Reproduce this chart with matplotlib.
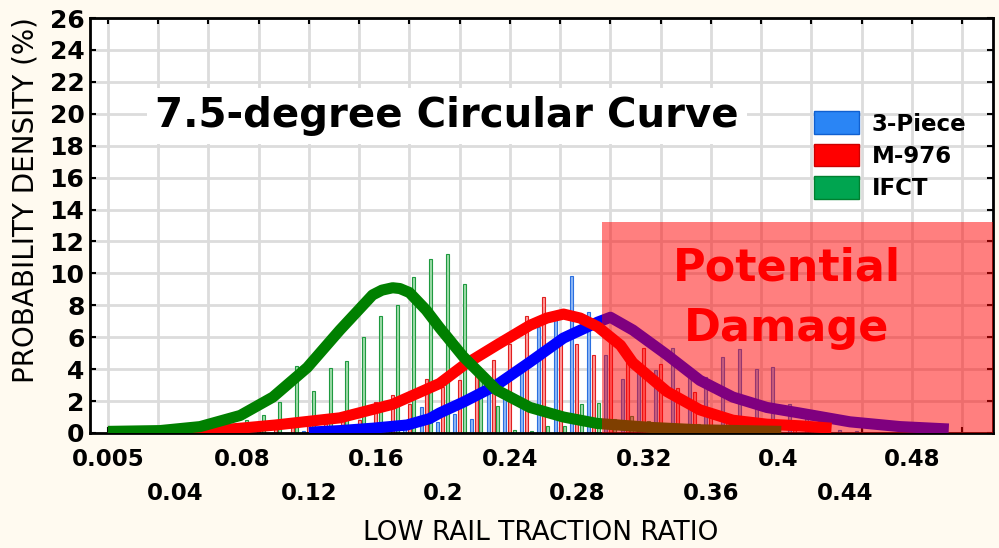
import numpy as np
import matplotlib.pyplot as plt
from matplotlib.patches import Patch, Rectangle
import matplotlib.transforms as mtransforms

# histogram bins (low rail traction ratio) and bar heights (%)
green_bins = [0.06, 0.07, 0.08, 0.09, 0.10, 0.11, 0.12, 0.13, 0.14, 0.15, 0.16, 0.17, 0.18,
              0.19, 0.20, 0.21, 0.22, 0.23, 0.24, 0.25, 0.26, 0.27, 0.28, 0.29, 0.30, 0.31,
              0.32, 0.33, 0.34, 0.35, 0.36]
green_hist = [0.1, 0.3, 0.8, 1.1, 1.95, 4.2, 2.65, 4.05, 4.5, 6.0, 7.3, 8.0, 9.8,
              10.9, 11.2, 9.35, 3.7, 1.7, 0.2, 0.1, 0.45, 0.45, 1.8, 1.85, 0.9, 1.05,
              0.75, 0.2, 0.1, 0.55, 0.1]

red_bins = [0.07, 0.08, 0.09, 0.10, 0.11, 0.12, 0.13, 0.14, 0.15, 0.16, 0.17, 0.18, 0.19,
            0.20, 0.21, 0.22, 0.23, 0.24, 0.25, 0.26, 0.27, 0.28, 0.29, 0.30, 0.31, 0.32,
            0.33, 0.34, 0.35, 0.36, 0.37, 0.38, 0.39, 0.40, 0.41, 0.42]
red_hist = [0.2, 0.3, 0.3, 0.4, 0.5, 0.6, 0.7, 0.8, 0.8, 1.95, 2.4, 1.8, 3.4,
            2.9, 3.3, 3.95, 4.55, 5.6, 7.3, 8.55, 6.2, 5.6, 4.9, 6.0, 4.9, 5.3,
            4.35, 2.85, 2.55, 1.2, 0.8, 0.6, 0.5, 0.3, 0.3, 0.2]

blue_bins = [0.12, 0.13, 0.14, 0.15, 0.16, 0.17, 0.18, 0.19, 0.20, 0.21, 0.22, 0.23, 0.24,
             0.25, 0.26, 0.27, 0.28, 0.29, 0.30, 0.31, 0.32, 0.33, 0.34, 0.35, 0.36, 0.37,
             0.38, 0.39, 0.40, 0.41, 0.42, 0.43, 0.44, 0.45]
blue_hist = [0.1, 0.1, 0.2, 0.2, 0.3, 0.5, 0.8, 1.6, 0.7, 1.2, 0.9, 2.5, 2.4,
             3.85, 6.65, 7.1, 9.85, 7.55, 4.9, 3.4, 3.95, 3.95, 5.3, 3.75, 3.5, 4.75,
             5.25, 4.0, 4.15, 1.8, 1.3, 0.6, 0.2, 0.1]

# fitted density curves
green_cx = [0.0, 0.031, 0.055, 0.079, 0.0985, 0.119, 0.1385, 0.158, 0.1636, 0.170, 0.1743,
            0.180, 0.190, 0.198, 0.212, 0.232, 0.252, 0.272, 0.292, 0.324, 0.353, 0.402]
green_cy = [0.1, 0.15, 0.4, 1.1, 2.25, 4.1, 6.45, 8.65, 8.95, 9.1, 9.05,
            8.8, 7.7, 6.6, 4.8, 2.7, 1.6, 1.0, 0.6, 0.35, 0.2, 0.1]

red_cx = [0.05, 0.079, 0.10, 0.1385, 0.17, 0.198, 0.2125, 0.232, 0.252, 0.262, 0.272, 0.282,
          0.2925, 0.306, 0.3134, 0.3337, 0.3534, 0.3731, 0.3934, 0.4131, 0.432]
red_cy = [0.05, 0.3, 0.5, 0.95, 1.8, 3.1, 4.25, 5.5, 6.75, 7.2, 7.45, 7.2,
          6.65, 5.5, 4.4, 2.6, 1.45, 0.8, 0.55, 0.45, 0.3]

blue_cx = [0.12, 0.1385, 0.158, 0.1785, 0.192, 0.198, 0.2125, 0.232, 0.252, 0.272, 0.2925,
           0.30, 0.3134, 0.3337, 0.3534, 0.3731, 0.3934, 0.4131, 0.443, 0.473, 0.502]
blue_cy = [0.05, 0.15, 0.3, 0.5, 0.9, 1.25, 1.95, 3.0, 4.45, 5.95, 6.95,
           7.25, 6.45, 4.9, 3.3, 2.25, 1.6, 1.25, 0.7, 0.4, 0.25]

tick_pos = [0.0, 0.04, 0.08, 0.12, 0.16, 0.2, 0.24, 0.28, 0.32, 0.36, 0.4, 0.44, 0.48]
tick_lab = ['0.005', '0.04', '0.08', '0.12', '0.16', '0.2', '0.24', '0.28', '0.32',
            '0.36', '0.4', '0.44', '0.48']

damage_from = 0.295
damage_top = 13.2

fig = plt.figure(figsize=(9.99, 5.48), dpi=100, facecolor='#fffaf0')
ax = fig.add_axes([90 / 999, 115 / 548, 903 / 999, 415 / 548])
ax.set_facecolor('white')

bw = 0.0018
ax.bar(np.array(blue_bins) - 0.003, blue_hist, width=bw, color='#8fb8f5',
       edgecolor='#2a6fe0', linewidth=0.8, zorder=2)
ax.bar(np.array(red_bins), red_hist, width=bw, color='#ff9a9a',
       edgecolor='#e02020', linewidth=0.8, zorder=2)
ax.bar(np.array(green_bins) + 0.0027, green_hist, width=bw, color='#a0dcaa',
       edgecolor='#1f9a40', linewidth=0.8, zorder=2)

line_kw = dict(lw=8, zorder=3, solid_joinstyle='round', solid_capstyle='butt')
ax.plot(blue_cx, blue_cy, color='#0000ff', **line_kw)
ax.plot(red_cx, red_cy, color='#ff0000', **line_kw)
ax.plot(green_cx, green_cy, color='#008000', **line_kw)

xmin, xmax = -0.0107, 0.5284
ax.set_xlim(xmin, xmax)
ax.set_ylim(0, 26)

ax.add_patch(Rectangle((damage_from, 0), xmax - damage_from, damage_top,
                       facecolor='red', alpha=0.5, edgecolor='none', zorder=4))

ax.set_xticks(np.arange(0, 0.53, 0.03))
ax.set_xticklabels([])
ax.set_yticks(np.arange(0, 27, 2))
ax.set_yticklabels([str(v) for v in range(0, 27, 2)], fontsize=18, fontweight='bold')
ax.tick_params(direction='in', length=4, width=1.5, top=True, right=True, pad=4)
ax.grid(True, color='#dcdcdc', lw=2, zorder=0)
ax.set_axisbelow(True)
for s in ax.spines.values():
    s.set_linewidth(2)

trans = mtransforms.blended_transform_factory(ax.transData, fig.transFigure)
for i, (p, lab) in enumerate(zip(tick_pos, tick_lab)):
    yy = (548 - 460) / 548 if i % 2 == 0 else (548 - 494) / 548
    fig.text(p, yy, lab, transform=trans, ha='center', va='center',
             fontsize=16.5, fontweight='bold')

fig.text(0.541, (548 - 533) / 548, 'LOW RAIL TRACTION RATIO', ha='center', va='center',
         fontsize=19)
fig.text(26 / 999, (548 - 200) / 548, 'PROBABILITY DENSITY (%)', ha='center', va='center',
         rotation=90, fontsize=20)

fig.text(447 / 999, (548 - 116) / 548, '7.5-degree Circular Curve', ha='center', va='center',
         fontsize=29, fontweight='bold',
         bbox=dict(facecolor='white', edgecolor='none', pad=6))

fig.text(787 / 999, (548 - 268) / 548, 'Potential', ha='center', va='center',
         fontsize=32, fontweight='bold', color='#ff0000', zorder=6)
fig.text(787 / 999, (548 - 328) / 548, 'Damage', ha='center', va='center',
         fontsize=32, fontweight='bold', color='#ff0000', zorder=6)

handles = [Patch(facecolor='#2a85f5', edgecolor='#1060d0', label='3-Piece'),
           Patch(facecolor='#ff0000', edgecolor='#cc0000', label='M-976'),
           Patch(facecolor='#00a550', edgecolor='#008030', label='IFCT')]
leg = ax.legend(handles=handles, loc='upper left', bbox_to_anchor=(803 / 999, 1 - 100 / 548),
                bbox_transform=fig.transFigure, frameon=False, borderpad=0,
                handlelength=1.95, handleheight=1.15, labelspacing=0.35, handletextpad=0.55,
                prop={'size': 16.5, 'weight': 'bold'})

fig.savefig('out.png', dpi=100, facecolor=fig.get_facecolor())
